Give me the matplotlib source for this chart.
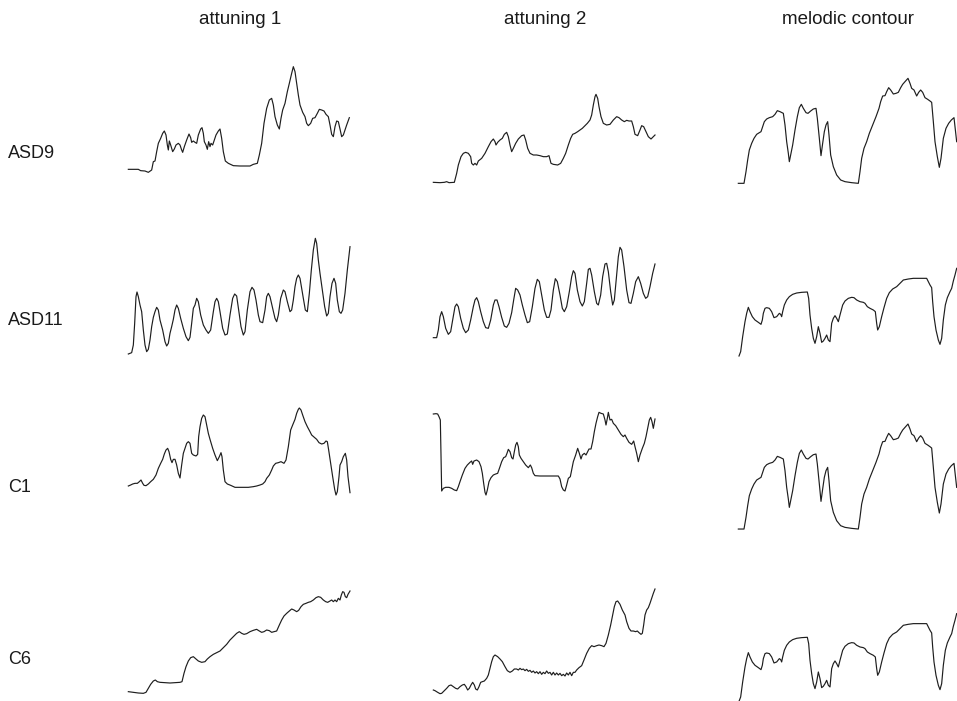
import numpy as np
import matplotlib
matplotlib.use("Agg")
import matplotlib.pyplot as plt

plt.rcParams["font.family"] = ["Liberation Sans", "DejaVu Sans"]

W, H = 957, 701

columns = ["attuning 1", "attuning 2", "melodic contour"]
rows = ["ASD9", "ASD11", "C1", "C6"]

# pitch traces (time, depth from panel top)
asd9_att1 = [(25,343),(55,343),(62,347),(75,348),(85,352),(95,345),(100,320),(105,318),(110,290),(115,265),(122,250),(128,235),(133,228),(138,240),(142,270),(145,285),(148,258),(152,270),(155,280),(158,290),(163,282),(168,270),(175,265),(180,270),(185,285),(188,292),(193,275),(200,255),(207,237),(212,248),(215,262),(220,258),(225,262),(230,265),(235,240),(242,222),(246,218),(250,235),(253,260),(258,270),(262,283),(266,260),(270,275),(273,265),(278,270),(282,258),(288,240),(295,228),(300,222),(305,250),(310,290),(316,318),(325,325),(340,332),(360,333),(390,333),(400,328),(412,325),(418,300),(425,265),(432,205),(440,160),(448,135),(455,130),(460,150),(465,185),(472,210),(478,222),(483,190),(488,165),(495,145),(502,110),(508,85),(515,55),(520,35),(525,50),(530,85),(535,120),(540,150),(548,172),(555,185),(560,205),(565,212),(572,205),(578,190),(585,188),(592,175),(598,163),(605,165),(612,168),(618,178),(625,185),(630,210),(635,238),(640,245),(645,215),(650,198),(655,200),(660,222),(665,245),(670,240),(675,225),(680,210),(688,188)]

asd9_att2 = [(25,292),(45,293),(58,292),(65,290),(72,293),(88,292),(95,265),(100,240),(108,215),(115,205),(122,202),(130,205),(137,215),(140,235),(145,240),(150,235),(155,240),(160,228),(170,220),(180,205),(190,185),(198,170),(205,162),(210,170),(213,180),(218,172),(225,165),(232,160),(238,148),(245,142),(250,155),(255,180),(260,200),(265,190),(272,175),(280,162),(290,152),(297,150),(302,165),(308,190),(315,205),(325,210),(335,210),(345,212),(355,215),(365,215),(372,212),(378,235),(385,238),(398,240),(407,235),(415,220),(422,205),(430,180),(437,160),(443,148),(450,145),(458,140),(465,135),(472,130),(480,122),(487,115),(495,105),(500,90),(505,60),(510,35),(513,28),(518,40),(522,65),(528,95),(535,115),(545,120),(555,118),(565,105),(575,95),(582,98),(590,105),(598,110),(605,106),(612,108),(620,108),(625,125),(630,148),(638,152),(645,135),(650,122),(656,125),(663,140),(670,155),(678,162),(685,155),(690,150)]

melodic_a = [(25,355),(42,355),(48,320),(53,285),(58,255),(65,235),(72,220),(80,208),(88,203),(93,200),(98,185),(103,170),(110,162),(118,158),(128,155),(135,148),(142,137),(150,140),(160,145),(165,180),(170,230),(175,265),(178,290),(182,270),(188,240),(195,195),(202,155),(208,128),(214,118),(220,130),(228,143),(234,145),(242,138),(250,132),(258,130),(262,160),(268,220),(273,272),(278,235),(283,200),(288,180),(293,170),(297,210),(302,270),(310,305),(320,330),(332,345),(345,350),(365,353),(385,355),(390,320),(395,280),(402,250),(410,230),(418,205),(428,180),(438,155),(447,130),(452,110),(458,93),(465,92),(470,80),(476,68),(482,75),(490,87),(498,85),(505,82),(512,68),(518,58),(525,50),(534,40),(540,55),(545,70),(552,75),(560,93),(566,82),(572,75),(578,82),(585,98),(593,103),(600,108),(605,112),(610,170),(615,230),(622,275),(628,307),(633,280),(640,220),(648,190),(656,175),(664,165),(672,158),(680,230)]

asd11_att1 = [(25,372),(35,368),(40,345),(44,280),(48,200),(51,186),(55,200),(60,225),(65,245),(70,300),(75,345),(80,365),(85,358),(90,330),(95,290),(100,262),(105,245),(110,232),(115,240),(120,270),(128,300),(135,335),(140,348),(145,340),(150,310),(155,290),(160,268),(165,240),(170,225),(175,235),(182,265),(190,295),(198,320),(205,332),(210,322),(215,280),(220,235),(225,225),(230,205),(235,215),(242,255),(250,285),(258,300),(265,310),(272,300),(280,245),(285,215),(290,205),(295,215),(300,245),(308,295),(315,315),(322,312),(330,255),(338,205),(344,192),(350,198),(356,240),(363,290),(370,315),(375,305),(382,240),(390,185),(396,172),(402,180),(408,210),(415,255),(420,275),(428,278),(435,240),(440,200),(445,190),(450,200),(458,235),(465,265),(470,275),(475,255),(482,205),(490,180),(495,185),(502,215),(510,245),(515,240),(520,210),(525,170),(530,145),(535,135),(540,145),(545,175),(550,205),(556,240),(562,245),(568,190),(574,120),(580,60),(586,25),(590,40),(595,90),(600,130),(607,180),(614,230),(620,258),(625,250),(630,200),(636,160),(642,145),(647,160),(652,210),(658,245),(663,250),(668,240),(675,190),(682,120),(690,50)]

asd11_att2 = [(25,293),(35,293),(40,270),(45,230),(50,215),(55,230),(62,265),(70,283),(77,275),(83,240),(90,200),(95,192),(100,200),(107,235),(115,265),(122,278),(130,270),(137,240),(145,200),(150,180),(155,173),(160,185),(167,215),(175,245),(182,263),(190,265),(197,240),(205,195),(210,180),(216,180),(222,200),(230,232),(238,258),(245,262),(252,250),(260,218),(266,180),(272,145),(278,150),(285,165),(292,195),(300,225),(307,248),(314,245),(322,200),(330,145),(337,118),(343,125),(350,165),(358,210),(365,232),(372,232),(378,210),(385,150),(391,116),(397,125),(405,165),(412,205),(418,215),(425,200),(433,155),(440,110),(445,92),(450,100),(457,150),(465,185),(472,198),(478,185),(485,130),(490,88),(495,85),(500,105),(508,155),(515,190),(520,195),(527,165),(533,110),(540,72),(545,70),(550,95),(557,155),(563,195),(568,180),(574,115),(580,50),(585,22),(590,30),(597,80),(605,150),(612,188),(618,190),(625,160),(632,125),(640,110),(647,130),(655,160),(662,175),(668,170),(675,140),(683,100),(690,72)]

melodic_b = [(27,273),(32,260),(38,215),(45,170),(50,145),(55,127),(60,140),(67,155),(75,165),(85,172),(93,178),(97,165),(100,145),(105,130),(110,128),(118,130),(125,140),(132,158),(140,155),(148,145),(152,148),(155,155),(158,140),(163,120),(170,105),(178,95),(188,88),(200,84),(215,82),(232,81),(236,100),(240,150),(245,190),(250,220),(255,235),(260,215),(265,185),(270,205),(275,232),(280,228),(285,220),(290,210),(295,225),(300,230),(305,175),(310,160),(315,152),(320,160),(325,170),(330,150),(338,120),(345,108),(355,100),(365,97),(372,98),(380,105),(390,110),(400,112),(405,115),(412,125),(420,130),(430,135),(436,140),(440,175),(443,195),(448,185),(455,155),(462,128),(470,100),(478,83),(488,72),(500,65),(510,55),(520,45),(535,42),(550,40),(570,40),(590,40),(595,50),(600,60),(605,68),(608,110),(612,155),(618,195),(625,225),(630,238),(635,220),(640,165),(646,120),(652,98),(660,80),(665,70),(670,48),(675,30),(680,10)]

c1_att1 = [(25,258),(32,255),(38,252),(45,250),(52,250),(58,245),(63,240),(68,250),(72,256),(78,257),(85,252),(92,245),(100,238),(108,225),(115,205),(122,190),(128,178),(133,162),(138,150),(143,145),(147,155),(152,178),(156,188),(160,178),(165,178),(170,195),(175,220),(180,234),(185,195),(190,160),(195,145),(200,130),(205,125),(210,130),(215,160),(220,165),(228,168),(233,163),(236,110),(240,80),(245,55),(250,45),(255,50),(260,75),(265,100),(270,118),(278,145),(285,165),(292,182),(298,170),(303,158),(306,170),(310,210),(315,245),(322,252),(332,256),(345,262),(365,262),(385,262),(400,260),(410,258),(420,255),(428,252),(435,245),(440,235),(448,225),(455,210),(460,198),(467,190),(475,188),(483,185),(492,190),(498,180),(505,140),(512,90),(518,75),(525,58),(530,40),(535,28),(538,24),(543,30),(548,45),(555,65),(562,80),(570,95),(575,105),(583,112),(590,118),(597,128),(605,132),(612,130),(618,123),(622,125),(626,150),(632,190),(638,230),(644,268),(648,285),(652,275),(657,230),(660,195),(665,185),(670,170),(676,160),(680,180),(684,230),(690,278)]

c1_att2 = [(25,27),(33,26),(38,27),(42,35),(46,45),(48,150),(50,258),(55,250),(62,247),(72,247),(80,250),(88,255),(95,257),(100,245),(105,230),(112,210),(120,190),(127,180),(135,172),(140,168),(143,178),(147,168),(155,165),(162,170),(168,185),(172,205),(176,235),(180,262),(183,270),(187,255),(192,230),(198,218),(205,210),(212,207),(218,205),(225,185),(230,170),(236,158),(242,155),(246,145),(250,133),(255,140),(260,158),(264,162),(268,140),(272,120),(276,112),(280,125),(283,150),(288,160),(295,170),(302,180),(310,188),(316,180),(320,188),(325,205),(330,212),(345,213),(365,213),(385,213),(400,213),(405,222),(410,245),(415,255),(420,258),(425,240),(430,220),(436,215),(440,195),(445,170),(452,150),(458,130),(463,145),(468,162),(472,150),(478,145),(483,150),(488,140),(492,132),(498,132),(503,110),(508,80),(513,55),(518,35),(522,22),(528,25),(535,27),(540,45),(543,60),(547,40),(550,22),(555,45),(560,43),(565,55),(572,62),(580,75),(588,88),(595,95),(600,90),(605,100),(612,112),(620,118),(626,108),(630,125),(635,145),(640,170),(645,150),(652,130),(658,115),(663,95),(668,70),(673,45),(677,37),(681,50),(685,70),(690,42)]

c6_att1 = [(25,320),(40,322),(55,324),(70,325),(78,322),(85,310),(92,298),(100,288),(106,285),(112,290),(120,292),(135,293),(150,294),(165,293),(180,292),(186,290),(192,265),(198,245),(205,228),(212,218),(220,215),(228,222),(235,228),(245,232),(255,230),(262,222),(270,215),(280,208),(290,203),(300,198),(310,188),(320,178),(330,165),(340,155),(350,145),(358,140),(365,145),(372,148),(380,146),(390,140),(400,136),(410,133),(418,138),(425,142),(432,140),(440,135),(448,137),(455,142),(462,140),(470,138),(478,120),(485,105),(492,93),(500,85),(508,78),(515,72),(522,75),(530,80),(536,76),(543,65),(550,58),(558,55),(565,52),(572,50),(580,45),(588,38),(595,35),(602,37),(610,45),(617,50),(623,52),(630,48),(635,45),(640,50),(645,45),(650,50),(655,40),(660,45),(664,30),(668,20),(672,22),(676,35),(680,38),(684,28),(690,18)]

c6_att2 = [(25,315),(30,317),(38,322),(45,326),(50,325),(57,318),(65,310),(72,302),(78,300),(85,305),(92,310),(98,312),(105,305),(112,300),(118,298),(123,305),(128,315),(133,310),(138,300),(143,292),(148,300),(152,312),(157,315),(162,305),(167,292),(172,290),(178,288),(185,280),(190,270),(195,250),(200,230),(205,215),(210,210),(218,215),(225,222),(232,230),(240,245),(247,257),(255,262),(262,258),(268,252),(275,252),(280,255),(285,250),(290,254),(295,252),(300,257),(305,253),(310,259),(315,256),(320,262),(325,258),(330,264),(335,260),(340,266),(345,260),(350,268),(355,262),(360,266),(365,258),(370,265),(375,262),(380,270),(385,262),(390,270),(395,264),(400,270),(405,265),(410,272),(415,268),(420,273),(425,264),(430,270),(435,262),(440,272),(445,262),(450,262),(455,255),(462,248),(470,242),(477,225),(485,205),(493,190),(500,182),(507,185),(515,182),(522,180),(530,182),(537,185),(543,175),(550,150),(557,120),(563,90),(568,65),(573,50),(578,48),(585,58),(592,75),(600,90),(605,110),(612,130),(618,138),(625,138),(632,140),(637,138),(642,143),(648,148),(652,145),(656,120),(660,90),(665,75),(670,68),(675,55),(680,40),(685,25),(690,12)]

traces = [
    [asd9_att1, asd9_att2, melodic_a],
    [asd11_att1, asd11_att2, melodic_b],
    [c1_att1, c1_att2, melodic_a],
    [c6_att1, c6_att2, melodic_b],
]

# panel boxes in pixels: left, top, width, height (data units are 3x pixels)
boxes = [
    [(120, 55, 240, 130), (425, 85, 240, 105), (730, 65, 227, 125)],
    [(120, 230, 240, 130), (425, 240, 240, 110), (730, 265, 227, 95)],
    [(120, 400, 240, 100), (425, 405, 240, 95), (730, 410.7, 227, 125)],
    [(120, 585, 240, 110), (425, 585, 240, 110), (730, 610.3, 227, 95)],
]

fig = plt.figure(figsize=(W / 100, H / 100), dpi=100)
fig.patch.set_facecolor("white")

for r in range(4):
    for c in range(3):
        x0, y0, w, h = boxes[r][c]
        ax = fig.add_axes([x0 / W, 1 - (y0 + h) / H, w / W, h / H])
        pts = np.array(traces[r][c], dtype=float)
        ax.plot(pts[:, 0], pts[:, 1], color="#1e1e1e", lw=0.85, clip_on=False)
        ax.set_xlim(0, 3 * w)
        ax.set_ylim(3 * h, 0)
        ax.axis("off")

col_x = [240, 545, 848]
for name, cx in zip(columns, col_x):
    fig.text(cx / W, 1 - 19 / H, name, ha="center", va="center",
             fontsize=13.5, color="#1a1a1a")

row_y = [153, 320, 488, 660]
for name, ry in zip(rows, row_y):
    fig.text(8 / W, 1 - ry / H, name, ha="left", va="center",
             fontsize=13, color="#1a1a1a")

fig.savefig("out.png", dpi=100, facecolor="white")
